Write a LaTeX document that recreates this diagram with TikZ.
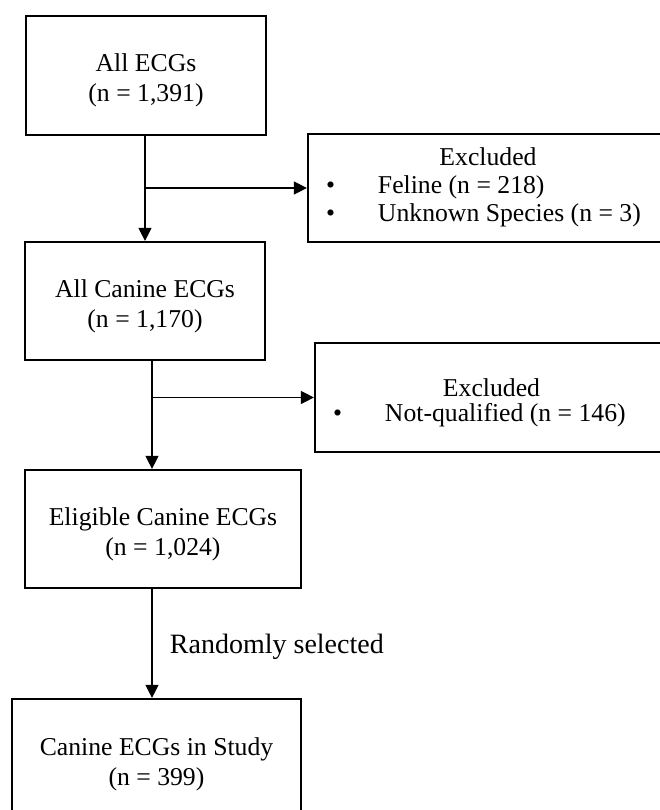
\documentclass[tikz,border=0pt]{standalone}
\usepackage{fontspec}
\setmainfont{Liberation Serif}
\usetikzlibrary{arrows.meta,calc,positioning}
\newcommand{\boxlines}[2]{\begin{tabular}{@{}c@{}}\noalign{\vskip 10pt}#1\\#2\end{tabular}}

\begin{document}
\begin{tikzpicture}[x=1pt,y=-1pt,>={Triangle[length=13pt,width=13pt]},
    font=\fontsize{25.7}{30}\selectfont,
    box/.style={draw,line width=2.2pt,inner sep=0pt},
    exclbox/.style={draw,line width=2.2pt,inner sep=0pt},
    flow/.style={->,line width=1.2pt}]
  \useasboundingbox (0,0) rectangle (659,810);
  % main column
  \node[box,minimum width=240pt,minimum height=119pt] (all) at (146,75.5) {\boxlines{All ECGs}{(n = 1,391)}};
  \node[box,minimum width=240pt,minimum height=118pt] (canine) at (145,301) {\boxlines{All Canine ECGs}{(n = 1,170)}};
  \node[box,minimum width=276pt,minimum height=118pt] (eligible) at (163,529) {\boxlines{Eligible Canine ECGs}{(n = 1,024)}};
  \node[box,minimum width=289pt,minimum height=120pt] (study) at (156.5,759) {\boxlines{Canine ECGs in Study}{(n = 399)}};
  % exclusions
  \node[exclbox,minimum width=360pt,minimum height=108pt] (excl1) at (488,188) {%
    \begin{tabular}{@{}p{70pt}@{}p{290pt}@{}}
      \multicolumn{2}{@{}c@{}}{Excluded}\\[-2pt]
      \hspace*{18pt}\textbullet & Feline (n = 218)\\[-2pt]
      \hspace*{18pt}\textbullet & Unknown Species (n = 3)
    \end{tabular}};
  \node[exclbox,minimum width=353pt,minimum height=109pt] (excl2) at (491.5,397.5) {%
    \begin{tabular}{@{}p{70pt}@{}p{283pt}@{}}
      \noalign{\vskip 10pt}
      \multicolumn{2}{@{}c@{}}{Excluded}\\[-5pt]
      \hspace*{18pt}\textbullet & Not-qualified (n = 146)
    \end{tabular}};
  % arrows
  \coordinate (spineA) at (145,0);
  \coordinate (spineB) at (152,0);
  \draw[flow] (all.south -| spineA) -- (canine.north -| spineA);
  \draw[flow] (excl1.west -| spineA) -- (excl1.west);
  \draw[flow] (canine.south -| spineB) -- (eligible.north -| spineB);
  \draw[flow] (excl2.west -| spineB) -- (excl2.west);
  \draw[flow] (eligible.south -| spineB) -- node[midway,right=14pt,yshift=-3pt,font=\fontsize{28}{32}\selectfont] (rand) {Randomly selected} (study.north -| spineB);
\end{tikzpicture}
\end{document}
